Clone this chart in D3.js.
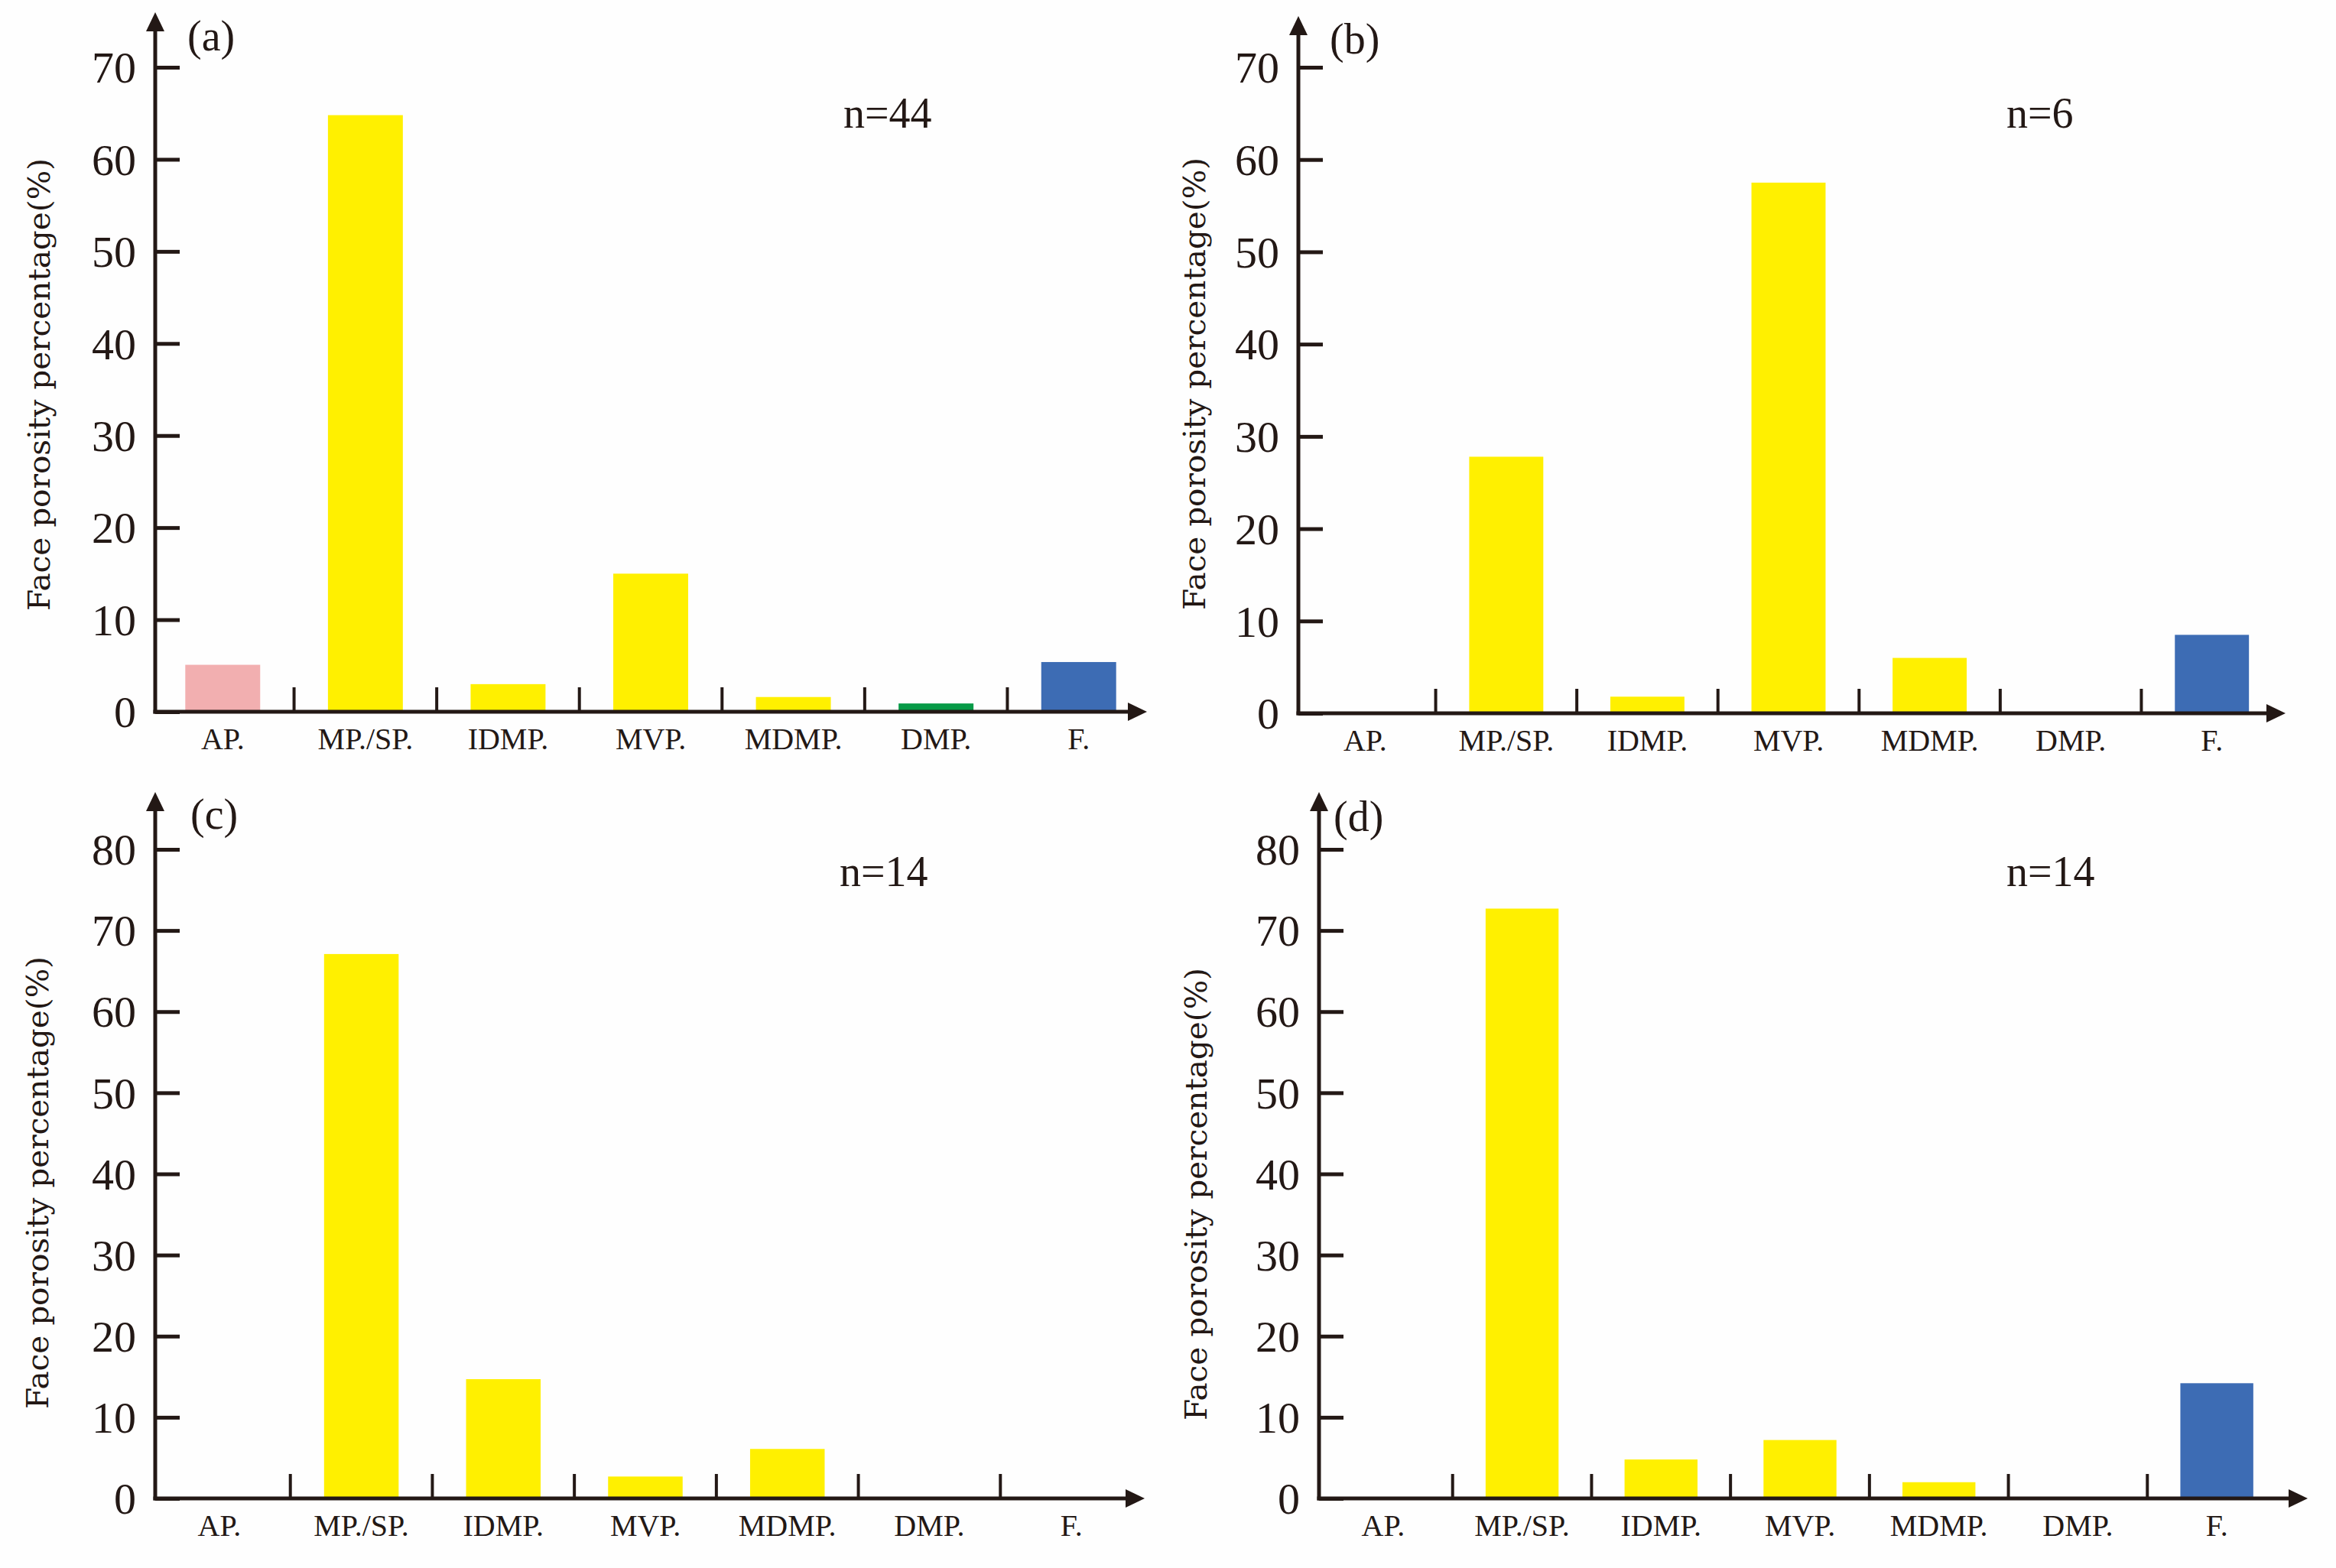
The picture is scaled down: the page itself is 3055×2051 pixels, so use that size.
<!DOCTYPE html>
<html>
<head>
<meta charset="utf-8">
<script src="https://cdn.jsdelivr.net/npm/d3@7"></script>
<style>
  body { margin: 0; background: #ffffff; }
  svg { display: block; }
  text { fill: #231815; }
</style>
</head>
<body>
<div id="chart"></div>
<script>
// pore types on the x axis
var categories = ["AP.", "MP./SP.", "IDMP.", "MVP.", "MDMP.", "DMP.", "F."];

// face porosity percentage (%) per panel
var valuesA = [5.1, 64.8, 3.0, 15.0, 1.6, 0.9, 5.4];
var valuesB = [0, 27.8, 1.8, 57.5, 6.0, 0, 8.5];
var valuesC = [0, 67.1, 14.7, 2.7, 6.1, 0, 0];
var valuesD = [0, 72.7, 4.8, 7.2, 2.0, 0, 14.2];

var panelLabels = ["(a)", "(b)", "(c)", "(d)"];
var sampleCounts = ["n=44", "n=6", "n=14", "n=14"];

var ticksTop = [0, 10, 20, 30, 40, 50, 60, 70];
var ticksBottom = [0, 10, 20, 30, 40, 50, 60, 70, 80];

var barColors = ["#f2afb0", "#fff000", "#fff000", "#fff000", "#fff000", "#079a47", "#3d6cb4"];

var yTitle = "Face porosity percentage(%)";

var ink = "#231815";
var serif = "'Liberation Serif', 'Times New Roman', serif";

var svg = d3.select("#chart").append("svg")
  .attr("width", 3055)
  .attr("height", 2051);

svg.append("rect").attr("width", 3055).attr("height", 2051).attr("fill", "#fefefe");

// layout of each panel (pixels)
var panels = [
  { values: valuesA, ticks: ticksTop, max: 70, ax: 203, ay: 931, yMaxPx: 88, top: 16, xEnd: 1500,
    band: [198, 1504], titleX: 51, titleY: 503, labX: 245, labY: 66, nX: 1103, nY: 167 },
  { values: valuesB, ticks: ticksTop, max: 70, ax: 1698, ay: 933, yMaxPx: 88, top: 21, xEnd: 2989,
    band: [1693, 2985], titleX: 1562, titleY: 502, labX: 1739, labY: 70, nX: 2624, nY: 167 },
  { values: valuesC, ticks: ticksBottom, max: 80, ax: 203, ay: 1960, yMaxPx: 1111, top: 1036, xEnd: 1497,
    band: [194, 1494], titleX: 49, titleY: 1547, labX: 249, labY: 1084, nX: 1098, nY: 1159 },
  { values: valuesD, ticks: ticksBottom, max: 80, ax: 1725, ay: 1960, yMaxPx: 1111, top: 1036, xEnd: 3018,
    band: [1718, 2990], titleX: 1564, titleY: 1562, labX: 1744, labY: 1087, nX: 2624, nY: 1159 }
];

panels.forEach(function(p, i){
  var g = svg.append("g");

  var x = d3.scaleBand().domain(categories).range(p.band).paddingInner(0).paddingOuter(0);
  var y = d3.scaleLinear().domain([0, p.max]).range([p.ay, p.yMaxPx]);

  var barW = x.bandwidth() * 0.525;

  // bars
  g.selectAll("rect.bar")
    .data(p.values)
    .enter().append("rect")
    .attr("class", "bar")
    .attr("x", function(d, j){ return x(categories[j]) + (x.bandwidth() - barW) / 2; })
    .attr("width", barW)
    .attr("y", function(d){ return y(d); })
    .attr("height", function(d){ return y(0) - y(d); })
    .attr("fill", function(d, j){ return barColors[j]; });

  // y axis ticks + labels
  var yAxis = d3.axisLeft(y).tickValues(p.ticks).tickSize(-32).tickPadding(25);
  var ya = g.append("g").attr("transform", "translate(" + p.ax + ",0)").call(yAxis);
  ya.select(".domain").remove();
  ya.selectAll(".tick line").attr("stroke", ink).attr("stroke-width", 5);
  ya.selectAll(".tick text")
    .attr("font-family", serif)
    .attr("font-size", 58)
    .attr("fill", ink)
    .attr("dy", "0.34em");

  // x axis labels
  var xAxis = d3.axisBottom(x).tickSize(0);
  var xa = g.append("g").attr("transform", "translate(0," + p.ay + ")").call(xAxis);
  xa.select(".domain").remove();
  xa.selectAll(".tick text")
    .attr("font-family", serif)
    .attr("font-size", 40)
    .attr("fill", ink)
    .attr("y", 49)
    .attr("dy", 0);

  // separators between categories
  g.selectAll("line.sep")
    .data(categories.slice(1))
    .enter().append("line")
    .attr("class", "sep")
    .attr("x1", function(c){ return x(c); })
    .attr("x2", function(c){ return x(c); })
    .attr("y1", p.ay)
    .attr("y2", p.ay - 32)
    .attr("stroke", ink)
    .attr("stroke-width", 4);

  // axis lines with arrow heads
  g.append("line")
    .attr("x1", p.ax).attr("x2", p.ax)
    .attr("y1", p.ay + 2.5).attr("y2", p.top + 20)
    .attr("stroke", ink).attr("stroke-width", 5);
  g.append("path")
    .attr("d", "M" + p.ax + "," + p.top + "L" + (p.ax - 12) + "," + (p.top + 25) + "L" + (p.ax + 12) + "," + (p.top + 25) + "Z")
    .attr("fill", ink);

  g.append("line")
    .attr("x1", p.ax - 2.5).attr("x2", p.xEnd - 20)
    .attr("y1", p.ay).attr("y2", p.ay)
    .attr("stroke", ink).attr("stroke-width", 5);
  g.append("path")
    .attr("d", "M" + p.xEnd + "," + p.ay + "L" + (p.xEnd - 25) + "," + (p.ay - 12) + "L" + (p.xEnd - 25) + "," + (p.ay + 12) + "Z")
    .attr("fill", ink);

  // y title
  g.append("text")
    .attr("transform", "translate(" + p.titleX + "," + p.titleY + ") rotate(-90)")
    .attr("text-anchor", "middle")
    .attr("dy", "0.35em")
    .attr("font-family", "'DejaVu Serif', serif")
    .attr("font-size", 40)
    .attr("fill", "#3a3a3a")
    .attr("textLength", 592)
    .attr("lengthAdjust", "spacingAndGlyphs")
    .text(yTitle);

  // panel letter
  g.append("text")
    .attr("x", p.labX).attr("y", p.labY)
    .attr("font-family", serif)
    .attr("font-size", 56)
    .attr("fill", ink)
    .text(panelLabels[i]);

  // sample count
  g.append("text")
    .attr("x", p.nX).attr("y", p.nY)
    .attr("font-family", serif)
    .attr("font-size", 56)
    .attr("fill", ink)
    .text(sampleCounts[i]);
});
</script>
</body>
</html>
